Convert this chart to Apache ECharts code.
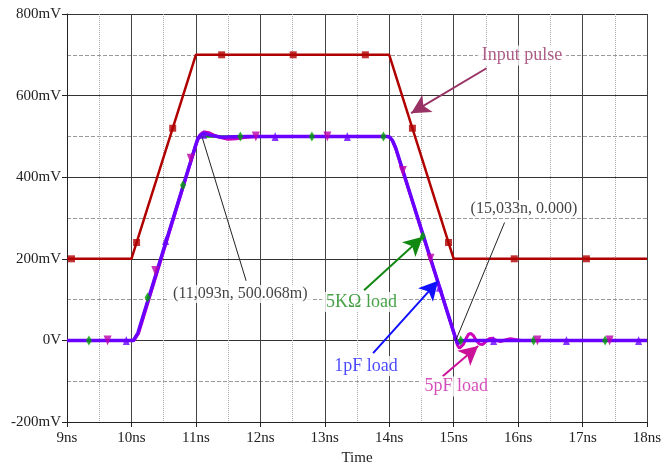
<!DOCTYPE html>
<html><head><meta charset="utf-8">
<script src="https://cdn.jsdelivr.net/npm/echarts@6/dist/echarts.min.js"></script>
<style>html,body{margin:0;padding:0;background:#fff}#c{width:672px;height:464px}</style>
</head><body><div id="c"></div>
<script>
// ---- data (time in ns, voltage in mV) ----
const xTicks = [9,10,11,12,13,14,15,16,17,18];
const yTicks = [-200,0,200,400,600,800];

const inputT = [9, 10, 11, 14, 15, 18];
const inputV = [200, 200, 700, 700, 200, 200];
const inputMarkT = [9.07, 10.08, 10.64, 11.40, 12.51, 13.63, 14.36, 14.92, 15.94, 17.06];
const inputMarkV = [200, 240, 520, 700, 700, 700, 520, 240, 200, 200];

const load5kT = [9, 10.03, 10.06, 10.1, 10.98, 11.03, 11.08, 11.15, 13.97, 14.01, 14.05, 14.1, 15.04, 15.07, 18];
const load5kV = [0, 0, 4, 18, 472, 493, 499, 500, 500, 498, 490, 472, 0, -2, 0];
const load5kMarkT = [9.34, 10.25, 10.80, 11.69, 12.80, 13.91, 14.52, 15.11, 16.24, 17.35];
const load5kMarkV = [0, 105, 380, 500, 500, 500, 255, 0, 0, 0];

const load5pT = [9, 10.04, 10.07, 10.11, 10.98, 11.02, 11.06, 11.1, 11.14, 11.2, 11.28, 11.38, 11.5, 11.62, 11.75, 11.9, 12, 13.97, 14.01, 14.05, 14.1, 15.04, 15.06, 15.09, 15.12, 15.15, 15.19, 15.23, 15.27, 15.31, 15.35, 15.4, 15.45, 15.5, 15.55, 15.6, 15.66, 15.73, 15.8, 15.88, 15.95, 16.05, 18];
const load5pV = [0, 0, 4, 17, 468, 488, 502, 509, 511, 509, 503, 497, 493, 494, 497, 499, 500, 500, 497, 489, 470, 0, -12, -19, -18, -10, 4, 15, 17, 11, 0, -9, -10, -3, 4, 5, 0, -3, 1, 4, 2, 0, 0];
const load5pMarkT = [9.63, 10.37, 10.92, 11.93, 13.04, 14.21, 14.64, 16.30, 17.42];
const load5pMarkV = [0, 170, 445, 500, 500, 415, 200, 0, 0];

const load1pT = [9, 10.03, 10.06, 10.1, 10.98, 11.03, 11.08, 11.14, 11.25, 11.4, 11.6, 11.8, 13.97, 14.01, 14.05, 14.1, 15.04, 15.06, 15.09, 15.13, 15.2, 18];
const load1pV = [0, 0, 4, 18, 470, 495, 505, 507, 502, 498, 499, 500, 500, 498, 490, 472, 0, -8, -6, -1, 0, 0];
const load1pMarkT = [9.92, 10.53, 11.12, 12.23, 13.35, 14.78, 15.62, 16.75, 17.87];
const load1pMarkV = [0, 245, 505, 500, 500, 130, 0, 0, 0];

// annotation texts and anchors (data coordinates)
const labelTexts = ['Input pulse', '(15,033n, 0.000)', '(11,093n, 500.068m)', '5K\u03A9 load', '1pF load', '5pF load'];
const labelT = [16.06, 16.09, 11.69, 13.57, 13.64, 15.04];
const labelV = [698, 322, 114, 94, -63, -113];
const pointerFromT = [15.51, 15.79, 11.78, 13.61, 13.75, 14.83];
const pointerFromV = [667, 289, 146, 123, -31, -88];
const pointerToT = [14.34, 15.033, 11.093, 14.52, 14.76, 15.38];
const pointerToV = [557, 0, 500, 254, 146, -14];

const zip = (a, b) => a.map((v, i) => [v, b[i]]);
const FONT = 'Liberation Serif';
const labelColors = ['#993366', '#111', '#111', '#1a8a1a', '#1a1aff', '#cc22aa'];
const labelSizes = [18, 16, 16, 18, 18, 18];
const pointerColors = ['#993366', '#222', '#222', '#118811', '#1010ff', '#cc1199'];
const pointerArrow = [true, false, false, true, true, true];

const chart = echarts.init(document.getElementById('c'), null, {renderer: 'canvas'});

const markLineData = pointerFromT.map((t, i) => [
  {coord: [t, pointerFromV[i]], symbol: 'none', lineStyle: {color: pointerColors[i], width: pointerArrow[i] ? 2 : 1, type: 'solid'}},
  {coord: [pointerToT[i], pointerToV[i]], symbol: pointerArrow[i] ? 'arrow' : 'none', symbolSize: [15, 19], itemStyle: {color: pointerColors[i]}}
]);

const labelData = labelTexts.map((txt, i) => ({
  value: [labelT[i], labelV[i]], name: txt,
  label: {color: labelColors[i], fontSize: labelSizes[i]}
}));

chart.setOption({
  animation: false,
  backgroundColor: '#fff',
  grid: {left: 67, right: 25, top: 14, bottom: 42, outerBoundsMode: 'none', containLabel: false},
  xAxis: {
    type: 'value', min: 9, max: 18, interval: 1,
    name: 'Time', nameLocation: 'middle', nameGap: 27,
    nameTextStyle: {fontFamily: FONT, fontSize: 15, color: '#222'},
    axisLine: {show: true, onZero: false, lineStyle: {color: '#222', width: 1}},
    axisTick: {show: true, length: 5, lineStyle: {color: '#222'}},
    axisLabel: {fontFamily: FONT, fontSize: 15, color: '#222', margin: 9, formatter: v => v + 'ns'},
    splitLine: {show: true, lineStyle: {color: '#444', width: 1}},
    minorTick: {show: false, splitNumber: 2},
    minorSplitLine: {show: true, lineStyle: {color: '#aaa', type: 'dotted', width: 1}}
  },
  yAxis: {
    type: 'value', min: -200, max: 800, interval: 200,
    axisLine: {show: true, onZero: false, lineStyle: {color: '#222', width: 1}},
    axisTick: {show: true, length: 5, lineStyle: {color: '#222'}},
    axisLabel: {fontFamily: FONT, fontSize: 15, color: '#222', margin: 6, formatter: v => v === 0 ? '0V' : v + 'mV'},
    splitLine: {show: true, lineStyle: {color: '#333', width: 1}},
    minorTick: {show: false, splitNumber: 2},
    minorSplitLine: {show: true, lineStyle: {color: '#999', type: 'dashed', width: 1}}
  },
  series: [
    {name: 'Input pulse', type: 'line', data: zip(inputT, inputV), showSymbol: false, symbol: 'none',
     lineStyle: {color: '#b00000', width: 2.5}, z: 3},
    {type: 'scatter', data: zip(inputMarkT, inputMarkV), symbol: 'rect', symbolSize: 7, itemStyle: {color: '#b00000'}, z: 4},
    {name: '5KΩ load', type: 'line', data: zip(load5kT, load5kV), symbol: 'none',
     lineStyle: {color: '#00a000', width: 2.5}, z: 3},
    {name: '5pF load', type: 'line', data: zip(load5pT, load5pV), symbol: 'none',
     lineStyle: {color: '#cc00bb', width: 3}, z: 3},
    {name: '1pF load', type: 'line', data: zip(load1pT, load1pV), symbol: 'none',
     lineStyle: {color: '#6a00ff', width: 3.5}, z: 4},
    {type: 'scatter', data: zip(load5kMarkT, load5kMarkV), symbol: 'diamond', symbolSize: [6, 10], itemStyle: {color: '#00a000'}, z: 5},
    {type: 'scatter', data: zip(load5pMarkT, load5pMarkV), symbol: 'triangle', symbolRotate: 180, symbolSize: [8, 10], itemStyle: {color: '#bb00aa'}, z: 5},
    {type: 'scatter', data: zip(load1pMarkT, load1pMarkV), symbol: 'triangle', symbolSize: [7, 9], itemStyle: {color: '#6a00ff'}, z: 5},
    {type: 'line', data: [], symbol: 'none', silent: true, z: 6,
     markLine: {silent: true, animation: false, symbol: ['none', 'arrow'], symbolSize: 18, label: {show: false}, emphasis: {disabled: true}, data: markLineData}},
    {type: 'scatter', data: labelData, symbolSize: 0, silent: true, z: 7,
     label: {show: true, position: 'inside', formatter: p => p.name, fontFamily: FONT, backgroundColor: '#fff', padding: [1, 4]}}
  ]
});
</script></body></html>
